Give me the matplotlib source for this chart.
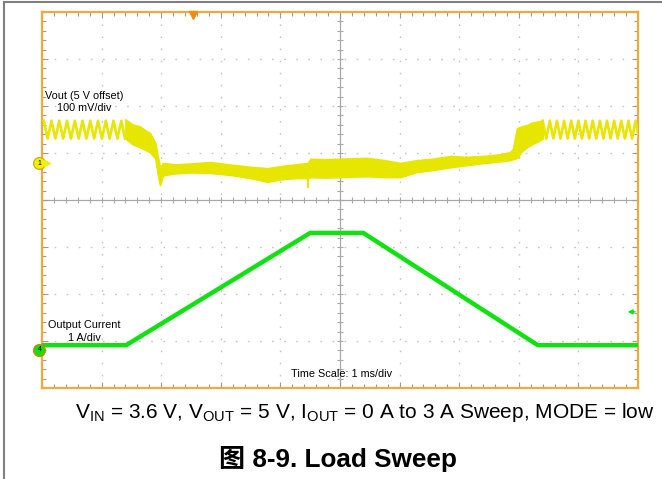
import numpy as np
import matplotlib
matplotlib.use("Agg")
import matplotlib.pyplot as plt
from matplotlib.lines import Line2D

plt.rcParams['font.family'] = ['Liberation Sans', 'Noto Sans CJK SC', 'DejaVu Sans']
plt.rcParams['mathtext.fontset'] = 'custom'
plt.rcParams['mathtext.rm'] = 'Liberation Sans'
plt.rcParams['mathtext.it'] = 'Liberation Sans'

# ---------------- data (time in ms, Vout in mV above 5 V, current in A) ----------------
CH1_OFFSET_DIV = 0.787     # channel-1 ground marker (divisions)
CH4_OFFSET_DIV = -3.19     # channel-4 ground marker (divisions)
VOUT_MV_PER_DIV = 100.0
IOUT_A_PER_DIV = 1.0

# Vout ripple (light load) peak times
ripple_left_peaks = [0.03, 0.16, 0.29, 0.42, 0.55, 0.68, 0.81, 0.94, 1.07, 1.20, 1.33]
ripple_right_peaks = [8.40, 8.52, 8.64, 8.76, 8.88, 9.00, 9.12, 9.24, 9.36, 9.48,
                      9.60, 9.72, 9.84, 9.96]
ripple_hi_mv = 90
ripple_lo_mv = 52

# Vout noisy band envelope (heavy load region)
band_t  = [1.40, 1.52, 1.64, 1.73, 1.81, 1.90, 1.95, 1.98, 2.03, 2.23, 2.50, 2.82, 3.20,
           3.50, 3.78, 4.04, 4.25, 4.46, 4.50, 4.75, 5.00, 5.45, 5.75, 6.01, 6.29, 6.55,
           6.85, 7.10, 7.40, 7.65, 7.85, 7.90, 7.97, 8.05, 8.14, 8.22, 8.31, 8.40]
band_hi = [93, 82, 78, 70, 64, 43, 10, -10, 0, -3, -1, 2, -4,
           -8, -11, -6, -3, 0, 9, 8, 9, 11, 6, 0, 6, 9,
           15, 13, 15, 18, 23, 30, 74, 78, 81, 86, 88, 90]
band_lo = [52, 40, 34, 28, 23, 10, -30, -47, -26, -22, -20, -21, -26,
           -32, -40, -34, -32, -32, -30, -31, -30, -28, -30, -30, -19, -15,
           -9, -5, 0, 3, 6, 8, 11, 25, 34, 40, 45, 52]
spike_t = [4.47, 4.47]
spike_mv = [-30, -51]

# Output current sweep
cur_t = [0.0, 1.41, 4.50, 5.39, 8.32, 10.0]
cur_a = [0.10, 0.10, 2.49, 2.49, 0.10, 0.10]

# ---------------- figure ----------------
W, H = 662, 479
fig = plt.figure(figsize=(W / 100, H / 100), dpi=100)
fig.patch.set_facecolor('white')

# outer frame (grey)
fig.add_artist(Line2D([4 / W, 4 / W], [0, 1 - 2 / H], transform=fig.transFigure,
                      color='#7f7f7f', lw=1.5))
fig.add_artist(Line2D([4 / W, 1], [1 - 2 / H, 1 - 2 / H], transform=fig.transFigure,
                      color='#7f7f7f', lw=1.5))

L, R, T, B = 42, 638, 12, 388
ax = fig.add_axes([L / W, 1 - B / H, (R - L) / W, (B - T) / H])
ax.set_xlim(0, 10)
ax.set_ylim(-4, 4)

ORANGE = '#F2A93B'
YELLOW = '#E6E600'
GREEN = '#11E011'
GRID = '#c4c4c4'
TICKC = '#9a9a9a'

for s in ax.spines.values():
    s.set_color(ORANGE)
    s.set_linewidth(1.6)

ax.set_xticks(np.arange(0, 11, 1))
ax.set_yticks(np.arange(-4, 5, 1))
ax.set_xticks(np.arange(0, 10.01, 0.2), minor=True)
ax.set_yticks(np.arange(-4, 4.01, 0.2), minor=True)
ax.tick_params(which='both', direction='in', colors=TICKC, labelleft=False,
               labelbottom=False, top=True, right=True, width=0.8)
ax.tick_params(which='major', length=4)
ax.tick_params(which='minor', length=3)

# dotted grid
for x in range(1, 10):
    if x != 5:
        ax.axvline(x, color=GRID, lw=1.0, ls=(0, (1.2, 7.5)), zorder=0)
for y in range(-3, 4):
    if y != 0:
        ax.axhline(y, color=GRID, lw=1.0, ls=(0, (1.2, 7.5)), zorder=0)

# centre cross with ticks
ax.axhline(0, color='#a8a8a8', lw=0.9, zorder=1)
ax.axvline(5, color='#a8a8a8', lw=0.9, zorder=1)
tx = np.arange(0.2, 10, 0.2)
ax.plot(tx, np.zeros_like(tx), ls='none', marker='|', ms=5, mew=0.8, color='#a8a8a8', zorder=1)
ty = np.arange(-3.8, 4, 0.2)
ax.plot(np.full_like(ty, 5.0), ty, ls='none', marker='_', ms=5, mew=0.8, color='#a8a8a8', zorder=1)

# ---------------- traces ----------------
def vdiv(mv):
    return CH1_OFFSET_DIV + np.asarray(mv, dtype=float) / VOUT_MV_PER_DIV

def zigzag(peaks, hi, lo):
    ts, vs = [], []
    half = (peaks[1] - peaks[0]) / 2
    for p in peaks:
        ts += [p, p + half]
        vs += [hi, lo]
    return ts, vs

for peaks in (ripple_left_peaks, ripple_right_peaks):
    zt, zv = zigzag(peaks, ripple_hi_mv, ripple_lo_mv)
    ax.plot(zt, vdiv(zv), color=YELLOW, lw=1.9, zorder=3, clip_on=True)

ax.fill_between(band_t, vdiv(band_lo), vdiv(band_hi), color=YELLOW, lw=1.2,
                edgecolor=YELLOW, zorder=3)
ax.plot(spike_t, vdiv(spike_mv), color=YELLOW, lw=1.5, zorder=3)

ax.plot(cur_t, CH4_OFFSET_DIV + np.asarray(cur_a) / IOUT_A_PER_DIV, color=GREEN,
        lw=3.2, zorder=4, solid_capstyle='butt')

# ---------------- markers ----------------
ax.plot([-0.045], [CH1_OFFSET_DIV], marker='o', ms=8.5, mfc='#F0F000', mec='#C8A800',
        mew=0.8, clip_on=False, zorder=6)
ax.text(-0.045, CH1_OFFSET_DIV, '1', fontsize=5, ha='center', va='center',
        clip_on=False, zorder=7)
ax.plot([0.09], [CH1_OFFSET_DIV], marker='>', ms=4, color='#F0F000', clip_on=False, zorder=6)

ax.plot([-0.045], [CH4_OFFSET_DIV], marker='o', ms=8.5, mfc=GREEN, mec='#C88A00',
        mew=1.0, clip_on=False, zorder=6)
ax.text(-0.045, CH4_OFFSET_DIV, '4', fontsize=5, ha='center', va='center',
        clip_on=False, zorder=7)

ax.plot([2.54], [3.93], marker='v', ms=6, color='#F08C10', clip_on=False, zorder=6)
ax.annotate('', xy=(9.78, -2.38), xytext=(10.0, -2.38),
            arrowprops=dict(arrowstyle='-|>', color=GREEN, lw=1.0, mutation_scale=7))

# ---------------- labels ----------------
fs = 7.8
ax.text(0.71, 2.21, 'Vout (5 V offset)', fontsize=fs, ha='center', va='center', zorder=8)
ax.text(0.71, 1.96, '100 mV/div', fontsize=fs, ha='center', va='center', zorder=8)
ax.text(0.71, -2.65, 'Output Current', fontsize=fs, ha='center', va='center', zorder=8)
ax.text(0.71, -2.93, '1 A/div', fontsize=fs, ha='center', va='center', zorder=8)
ax.text(5.02, -3.70, 'Time Scale: 1 ms/div', fontsize=fs, ha='center', va='center', zorder=8)

fig.text(365 / W, 1 - 413 / H,
         r'V$_{\mathrm{IN}}$ = 3.6 V, V$_{\mathrm{OUT}}$ = 5 V, I$_{\mathrm{OUT}}$ = 0 A to 3 A Sweep, MODE = low',
         fontsize=15, ha='center', va='center')
fig.text(338 / W, 1 - 459 / H, '图 8-9. Load Sweep', fontsize=18.8, fontweight='bold',
         ha='center', va='center')

fig.savefig('out.png', dpi=100, facecolor='white')
